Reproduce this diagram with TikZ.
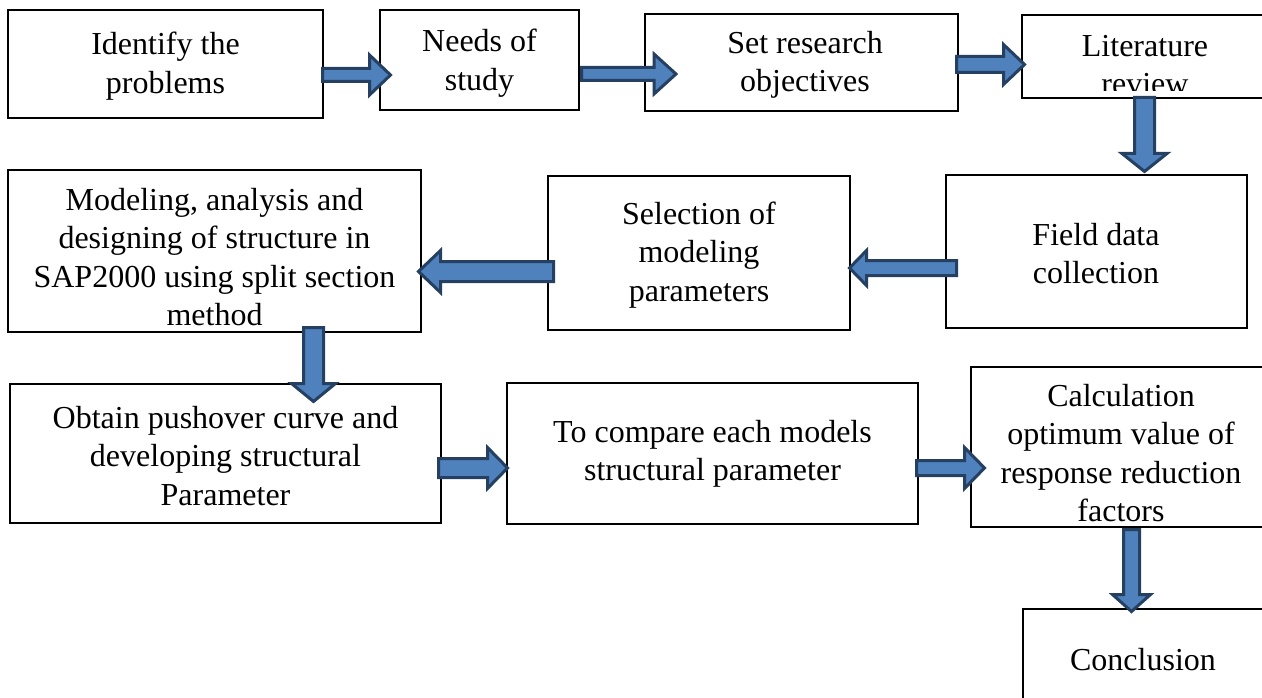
\documentclass[tikz,border=0pt]{standalone}
\usepackage{fontspec}
\setmainfont{Liberation Serif}
\usetikzlibrary{calc}
\definecolor{arrfill}{RGB}{79,129,189}
\definecolor{arrline}{RGB}{38,64,98}
\tikzset{
  box/.style={draw=black, line width=2pt, fill=white, inner sep=0pt, anchor=center},
  txt/.style={align=center, font=\fontsize{32}{38.5}\selectfont, inner sep=0pt, anchor=center},
  blockarr/.style={draw=arrline, fill=arrfill, line width=3pt, line join=miter, miter limit=10},
}
% #1 start coordinate, #2 tip coordinate, #3 shaft half width, #4 head half width, #5 head length
\newcommand\blkarrow[5]{%
  \coordinate (hb) at ($(#2)!#5!(#1)$);
  \draw[blockarr] ($(#1)!#3!90:(#2)$) -- ($(hb)!#3!-90:(#1)$) -- ($(hb)!#4!-90:(#1)$)
    -- (#2) -- ($(hb)!#4!90:(#1)$) -- ($(hb)!#3!90:(#1)$) -- ($(#1)!#3!-90:(#2)$) -- cycle;}
\begin{document}
\begin{tikzpicture}[x=1pt, y=-1pt]
\useasboundingbox (0,0) rectangle (1262,698);

% boxes
\node[box, minimum width=315pt, minimum height=108pt] (id)   at (165.5,64)   {};
\node[box, minimum width=199pt, minimum height=100pt] (need) at (479.5,60)   {};
\node[box, minimum width=313pt, minimum height=97pt]  (obj)  at (801.5,62.5) {};
\node[box, minimum width=246pt, minimum height=83pt]  (lit)  at (1145,56.5)  {};
\node[box, minimum width=301pt, minimum height=153pt] (fld)  at (1096.5,251.5) {};
\node[box, minimum width=302pt, minimum height=154pt] (sel)  at (699,253)    {};
\node[box, minimum width=413pt, minimum height=162pt] (mod)  at (214.5,251)  {};
\node[box, minimum width=431pt, minimum height=139pt] (obt)  at (225.5,453.5) {};
\node[box, minimum width=411pt, minimum height=141pt] (cmp)  at (712.5,453.5) {};
\node[box, minimum width=300pt, minimum height=160pt] (calc) at (1121,447)   {};
\node[box, minimum width=242pt, minimum height=96pt]  (conc) at (1144,657)   {};

% texts
\node[txt] (idt)   at (165.5,66)  {Identify the\\problems};
\node[txt] (needt) at (479.5,63)  {Needs of\\study};
\node[txt] (objt)  at (805,65)    {Set research\\objectives};
\begin{scope}
  \clip (1020,16) rectangle (1270,91);
  \node[txt] (litt) at (1145,65) {Literature\\review};
\end{scope}
\node[txt] (fldt)  at (1096,253.5) {Field data\\collection};
\node[txt] (selt)  at (699,255)   {Selection of\\modeling\\parameters};
\node[txt] (modt)  at (214.5,257) {Modeling, analysis and\\designing of structure in\\SAP2000 using split section\\method};
\node[txt] (obtt)  at (225.5,456) {Obtain pushover curve and\\developing structural\\Parameter};
\node[txt] (cmpt)  at (712.5,454) {To compare each models\\structural parameter};
\node[txt] (calct) at (1121,453)  {Calculation\\optimum value of\\response reduction\\factors};
\node[txt] (conct) at (1143,660)  {Conclusion};

% arrow end points
\coordinate (a1s) at (322.5,75);   \coordinate (a1e) at (390.5,75);
\coordinate (a2s) at (581.5,74);   \coordinate (a2e) at (676,74);
\coordinate (a3s) at (956.5,64.5); \coordinate (a3e) at (1024.5,64.5);
\coordinate (a4s) at (1144.5,97.5); \coordinate (a4e) at (1144.5,171.5);
\coordinate (a5s) at (956.5,268);  \coordinate (a5e) at (849.5,268);
\coordinate (a6s) at (553.5,271.5); \coordinate (a6e) at (418.5,271.5);
\coordinate (a7s) at (313.5,327.5); \coordinate (a7e) at (313.5,401.5);
\coordinate (a8s) at (438.5,468);  \coordinate (a8e) at (507.5,468);
\coordinate (a9s) at (916.5,468);  \coordinate (a9e) at (984.5,468);
\coordinate (a10s) at (1131.5,529.5); \coordinate (a10e) at (1131.5,611.5);

\blkarrow{a1s}{a1e}{6.5pt}{20pt}{21pt}
\blkarrow{a2s}{a2e}{6.5pt}{20pt}{22pt}
\blkarrow{a3s}{a3e}{8pt}{20pt}{21pt}
\blkarrow{a4s}{a4e}{10pt}{22.5pt}{18pt}
\blkarrow{a5s}{a5e}{7.5pt}{17.5pt}{17pt}
\blkarrow{a6s}{a6e}{10pt}{21pt}{22pt}
\blkarrow{a7s}{a7e}{10pt}{22pt}{18pt}
\blkarrow{a8s}{a8e}{9.5pt}{20.5pt}{20pt}
\blkarrow{a9s}{a9e}{7.5pt}{20.5pt}{20pt}
\blkarrow{a10s}{a10e}{8pt}{19pt}{17pt}
\end{tikzpicture}
\end{document}
